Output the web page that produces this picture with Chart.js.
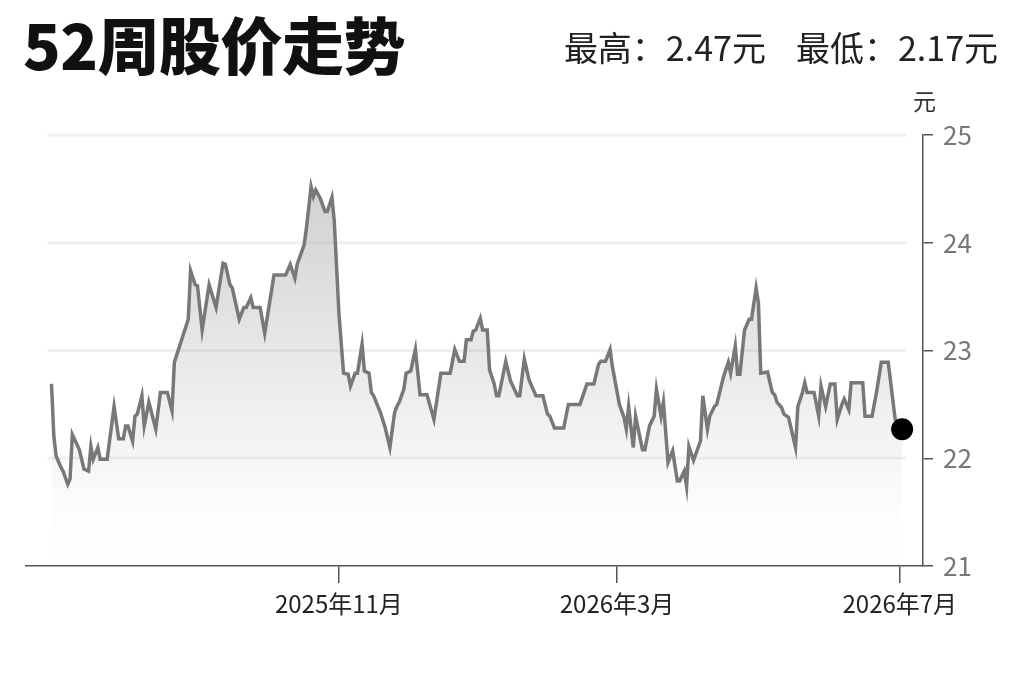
<!DOCTYPE html>
<html lang="zh-CN">
<head>
<meta charset="utf-8">
<title>52周股价走势</title>
<script src="https://cdn.jsdelivr.net/npm/chart.js@4.4.1/dist/chart.umd.min.js"></script>
<style>
  html, body { margin: 0; padding: 0; background: #fff; }
  body { width: 1023px; height: 682px; position: relative; overflow: hidden; font-family: "Noto Sans CJK SC", sans-serif; }
  #wrap { position: absolute; left: 0; top: 0; width: 1023px; height: 682px; }
  #title { position: absolute; left: 23px; top: 12px; font-size: 62px; font-weight: 900; color: #111; line-height: 1; letter-spacing: -0.5px; }
  #stats { position: absolute; right: 25px; top: 27px; font-size: 34px; color: #222; line-height: 1.2; }
  #stats span + span { margin-left: 30px; }
  #unit { position: absolute; left: 913px; top: 87px; font-size: 23px; color: #333; line-height: 1.2; }
</style>
</head>
<body>
<div id="wrap"><canvas id="myChart" width="1023" height="682"></canvas></div>
<div id="title">52周股价走势</div>
<div id="stats"><span>最高：2.47元</span><span>最低：2.17元</span></div>
<div id="unit">元</div>
<script>
'use strict';

// days counted from 2025-07-01
let days = [
  -1, 0, 1, 3, 4, 6, 7, 8, 11, 13, 15, 16, 17, 19, 20, 23, 26, 28, 30, 31,
  32, 34, 35, 36, 38, 39, 41, 44, 46, 49, 51, 52, 58, 59, 61, 62, 64, 67, 70, 73,
  74, 76, 77, 80, 82, 83, 85, 86, 89, 91, 95, 100, 102, 104, 105, 108, 109, 111, 112, 113,
  115, 117, 118, 120, 121, 123, 125, 127, 128, 130, 131, 133, 134, 136, 137, 138, 141, 143, 145, 147,
  148, 149, 151, 152, 154, 156, 158, 161, 164, 167, 171, 173, 175, 177, 178, 180, 181, 182, 184, 185,
  187, 188, 190, 191, 192, 195, 197, 200, 201, 203, 205, 208, 211, 213, 214, 216, 220, 222, 227, 230,
  233, 235, 236, 238, 240, 241, 244, 246, 247, 248, 250, 251, 253, 254, 255, 257, 259, 260, 262, 263,
  265, 267, 269, 270, 272, 273, 274, 276, 279, 280, 282, 283, 285, 286, 289, 291, 292, 294, 295, 296,
  298, 300, 301, 303, 304, 305, 308, 309, 310, 311, 312, 314, 315, 317, 320, 321, 323, 324, 325, 328,
  330, 331, 333, 335, 337, 338, 340, 341, 343, 344, 349, 350, 353, 355, 357, 360, 363, 366
];
let prices = [
  22.69, 22.21, 22.02, 21.92, 21.88, 21.76, 21.81, 22.22, 22.08, 21.90, 21.88, 22.11, 21.99, 22.10, 21.99, 21.99, 22.48, 22.18, 22.18, 22.30,
  22.30, 22.16, 22.39, 22.41, 22.58, 22.30, 22.52, 22.27, 22.61, 22.61, 22.44, 22.89, 23.29, 23.74, 23.61, 23.60, 23.19, 23.61, 23.40, 23.81,
  23.80, 23.61, 23.58, 23.29, 23.40, 23.40, 23.49, 23.40, 23.40, 23.16, 23.70, 23.70, 23.80, 23.67, 23.80, 23.98, 24.14, 24.52, 24.43, 24.49,
  24.41, 24.29, 24.29, 24.42, 24.20, 23.35, 22.79, 22.78, 22.67, 22.79, 22.79, 23.06, 22.81, 22.79, 22.61, 22.58, 22.42, 22.28, 22.10, 22.42,
  22.48, 22.52, 22.64, 22.79, 22.81, 23.01, 22.59, 22.59, 22.36, 22.79, 22.79, 23.01, 22.90, 22.90, 23.10, 23.10, 23.18, 23.19, 23.30, 23.19,
  23.19, 22.82, 22.69, 22.58, 22.58, 22.90, 22.72, 22.58, 22.58, 22.92, 22.73, 22.58, 22.58, 22.41, 22.39, 22.28, 22.28, 22.50, 22.50, 22.69,
  22.69, 22.87, 22.90, 22.90, 23.01, 22.85, 22.50, 22.38, 22.27, 22.48, 22.10, 22.39, 22.18, 22.08, 22.08, 22.30, 22.39, 22.64, 22.39, 22.52,
  21.96, 22.07, 21.79, 21.79, 21.88, 21.74, 22.11, 21.98, 22.16, 22.58, 22.27, 22.39, 22.48, 22.50, 22.76, 22.89, 22.79, 23.04, 22.78, 22.78,
  23.19, 23.29, 23.29, 23.58, 23.44, 22.79, 22.80, 22.70, 22.61, 22.59, 22.52, 22.47, 22.41, 22.38, 22.10, 22.48, 22.61, 22.70, 22.61, 22.61,
  22.39, 22.67, 22.48, 22.69, 22.69, 22.36, 22.50, 22.55, 22.45, 22.70, 22.70, 22.39, 22.39, 22.62, 22.89, 22.89, 22.36, 22.27
];
let tickDays = [123, 243, 365];
let tickLabels = ['2025年11月', '2026年3月', '2026年7月'];
let yTicks = [21, 22, 23, 24, 25];

let points = days.map((d, i) => ({ x: d, y: prices[i] }));
let lastIndex = points.length - 1;
let fontFamily = '"Noto Sans CJK SC", sans-serif';

// faint horizontal bands, only across the span of the data
let softGrid = {
  id: 'softGrid',
  beforeDatasetsDraw(chart) {
    let ctx = chart.ctx;
    let xs = chart.scales.x;
    let ys = chart.scales.y;
    let x0 = xs.getPixelForValue(days[0]) - 4;
    let x1 = xs.getPixelForValue(days[lastIndex]) + 4;
    ctx.save();
    ctx.strokeStyle = '#f0f0f0';
    ctx.lineWidth = 3;
    yTicks.slice(1).forEach(v => {
      let y = ys.getPixelForValue(v);
      ctx.beginPath();
      ctx.moveTo(x0, y);
      ctx.lineTo(x1, y);
      ctx.stroke();
    });
    ctx.restore();
  }
};

function areaFill(context) {
  let area = context.chart.chartArea;
  if (!area) return 'rgba(0,0,0,0)';
  let g = context.chart.ctx.createLinearGradient(0, area.top, 0, area.bottom);
  g.addColorStop(0, 'rgba(150,150,150,0.5)');
  g.addColorStop(0.85, 'rgba(150,150,150,0.03)');
  g.addColorStop(1, 'rgba(150,150,150,0)');
  return g;
}

new Chart(document.getElementById('myChart'), {
  type: 'line',
  data: {
    datasets: [{
      data: points,
      borderColor: '#787878',
      borderWidth: 3.5,
      tension: 0,
      fill: 'start',
      backgroundColor: areaFill,
      pointRadius: ctx => ctx.dataIndex === lastIndex ? 11 : 0,
      pointHoverRadius: ctx => ctx.dataIndex === lastIndex ? 11 : 0,
      pointBackgroundColor: '#000',
      pointBorderWidth: 0
    }]
  },
  options: {
    responsive: false,
    animation: false,
    layout: { padding: { left: 26, top: 135, right: 0, bottom: 0 } },
    plugins: { legend: { display: false }, tooltip: { enabled: false } },
    scales: {
      x: {
        type: 'linear',
        min: -12,
        max: 375,
        afterBuildTicks: axis => { axis.ticks = tickDays.map(v => ({ value: v })); },
        afterFit: axis => { axis.height = 116; },
        ticks: {
          autoSkip: false,
          maxRotation: 0,
          padding: 6,
          color: '#222',
          font: { size: 24, family: fontFamily },
          callback: v => tickLabels[tickDays.indexOf(v)] || ''
        },
        grid: { drawOnChartArea: false, drawTicks: true, tickLength: 17, color: '#555', lineWidth: 1.5 },
        border: { display: true, color: '#555', width: 1.5 }
      },
      y: {
        position: 'right',
        min: yTicks[0],
        max: yTicks[yTicks.length - 1],
        afterFit: axis => { axis.width = 100; },
        ticks: {
          stepSize: 1,
          padding: 10,
          color: '#777',
          font: { size: 26, family: fontFamily }
        },
        grid: { drawOnChartArea: false, drawTicks: true, tickLength: 10, color: '#555', lineWidth: 1.5 },
        border: { display: true, color: '#555', width: 1.5 }
      }
    }
  },
  plugins: [softGrid]
});
</script>
</body>
</html>
